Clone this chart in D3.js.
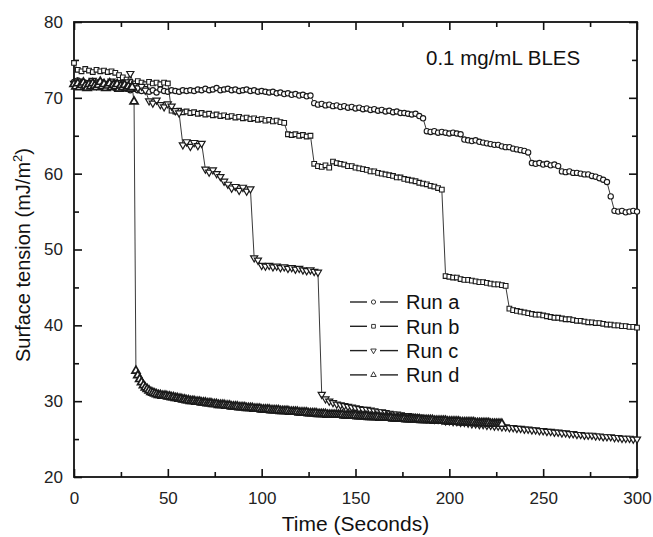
<!DOCTYPE html>
<html>
<head>
<meta charset="utf-8">
<script src="https://cdn.jsdelivr.net/npm/d3@7"></script>
<style>
  body { margin: 0; background: #fff; }
  svg { display: block; font-family: "Liberation Sans", Arial, sans-serif; }
  .axis text { font-size: 17px; fill: #222; }
  .axis line { stroke: #111; stroke-width: 1.6; }
  .axis path { display: none; }
</style>
</head>
<body>
<svg id="chart" width="653" height="537"></svg>
<script>
// sampling interval (s) of each run
var stepA = 2, stepB = 2, stepC = 2, stepD = 1;

// surface tension (mJ/m2)
var runA = [
  72.1, 72.3, 71.8, 72.0, 71.6, 72.2, 71.9, 71.5, 71.8, 71.4, 71.7, 71.3, 71.6, 71.2, 71.4, 71.0,
  71.3, 71.0, 70.9, 71.2, 70.8, 71.0, 70.7, 71.1, 70.9, 70.8, 71.0, 70.9, 70.8, 71.0, 70.9,
  71.0, 70.9, 71.1, 71.0, 71.2, 71.0, 71.1, 71.3, 71.0, 71.1, 71.2, 71.0, 71.1, 70.9, 71.0, 71.1, 70.9, 71.0, 70.8, 70.9,
  70.8, 70.7, 70.8, 70.6, 70.7, 70.5, 70.6, 70.4, 70.5, 70.3, 70.4, 70.2, 70.3,
  69.3, 69.1, 69.2, 69.0, 69.1, 68.9, 69.0, 68.8, 68.9, 68.7, 68.8, 68.6, 68.7, 68.5, 68.6,
  68.4, 68.5, 68.3, 68.4, 68.2, 68.3, 68.1, 68.2, 68.0, 68.0, 67.9, 67.8, 67.9, 67.6, 67.3,
  65.6, 65.5, 65.6, 65.4, 65.5, 65.4, 65.3, 65.4, 65.3, 65.2,
  64.5, 64.4, 64.3, 64.4, 64.2, 64.1, 64.0, 63.9, 63.8, 63.8, 63.6, 63.5, 63.5, 63.3, 63.2, 63.1, 63.0, 62.8,
  61.4, 61.3, 61.4, 61.2, 61.3, 61.1, 61.2, 61.0,
  60.3, 60.2, 60.3, 60.1, 60.1, 60.0, 59.9, 59.9, 59.7, 59.6, 59.4, 59.2, 58.9,
  57.0,
  55.1, 55.0, 55.1, 54.9, 55.0, 55.1, 55.0
];
var runB = [
  74.6,
  73.7, 73.5, 73.8, 73.6, 73.4, 73.7, 73.5, 73.6, 73.4, 73.5, 73.3,
  73.0, 72.7, 72.4,
  72.1, 71.9, 72.2, 72.0, 71.8, 72.1, 71.9, 72.0, 71.8, 72.0, 71.9,
  68.3, 68.2, 68.3, 68.1, 68.2, 68.0, 68.1, 67.9, 68.0,
  67.8, 67.9, 67.7, 67.8, 67.6, 67.7, 67.5, 67.6, 67.4,
  67.5, 67.3, 67.4, 67.2, 67.3, 67.1, 67.2, 67.0, 67.1,
  66.9, 67.0, 66.8, 66.7,
  65.2, 65.1, 65.2, 65.0, 65.1, 64.9, 65.0,
  61.3, 61.0, 60.9, 61.1, 60.8,
  61.6, 61.4, 61.3, 61.2, 61.0, 61.0, 60.8, 60.7, 60.6,
  60.5, 60.3, 60.3, 60.1, 60.0, 59.9, 59.8, 59.7,
  59.5, 59.5, 59.3, 59.2, 59.1, 59.0, 58.8, 58.7,
  58.6, 58.4, 58.3, 58.1, 57.9,
  46.5, 46.4, 46.3, 46.3, 46.1, 46.0, 46.0, 45.9, 45.8, 45.7, 45.7, 45.6, 45.5, 45.4, 45.4, 45.3, 45.2,
  42.2, 42.0, 41.9, 41.8, 41.7, 41.6, 41.5, 41.4, 41.4, 41.3, 41.2,
  41.1, 41.0, 41.0, 40.9, 40.8, 40.8, 40.7, 40.6, 40.6, 40.5,
  40.4, 40.4, 40.3, 40.3, 40.2, 40.1, 40.1, 40.0, 40.0, 39.9,
  39.9, 39.8, 39.8, 39.7
];
var runC = [
  71.9, 72.2, 71.7, 72.0, 71.8, 72.3, 71.6, 72.1, 71.9, 71.7, 72.2, 71.8, 72.0, 71.6, 72.1,
  73.2,
  71.6, 71.3, 71.5, 71.0,
  69.6, 69.3, 69.7, 69.1, 68.8, 69.2, 68.9, 68.3,
  68.0,
  63.8, 64.2, 63.6, 64.1, 63.7, 64.0,
  60.6, 60.2, 60.5, 60.0, 59.6,
  59.0, 58.6, 58.1, 58.3, 57.8, 58.2, 57.7, 58.0,
  48.9, 48.6,
  47.9, 47.8, 47.9, 47.7, 47.8, 47.6, 47.7, 47.5, 47.6, 47.4, 47.5, 47.3, 47.2, 47.3, 47.1, 47.0,
  30.9, 30.3, 30.0, 29.8, 29.6,
  29.5, 29.4, 29.3, 29.2, 29.1, 29.0, 28.9, 28.9, 28.8, 28.7,
  28.6, 28.6, 28.5, 28.4, 28.3, 28.3, 28.2, 28.1, 28.1, 28.0,
  27.9, 27.9, 27.8, 27.7, 27.7, 27.6, 27.6, 27.5, 27.4, 27.4,
  27.3, 27.3, 27.2, 27.2, 27.1, 27.0, 27.0, 26.9, 26.9, 26.8,
  26.8, 26.7, 26.7, 26.6, 26.6, 26.5, 26.5, 26.4, 26.4, 26.3,
  26.3, 26.2, 26.2, 26.1, 26.1, 26.0, 26.0, 25.9, 25.9, 25.8,
  25.8, 25.7, 25.7, 25.6, 25.6, 25.5, 25.5, 25.5, 25.4, 25.4,
  25.3, 25.3, 25.3, 25.2, 25.2, 25.1, 25.1, 25.1, 25.0, 25.0
];
var runD = [
  71.8, 71.5, 71.9, 71.4, 71.7, 72.0, 71.6, 71.3, 71.8, 71.5, 71.9, 71.6, 71.4, 71.7, 72.1, 71.5,
  71.8, 71.3, 71.6, 71.9, 71.4, 71.7, 71.5, 71.8, 71.2, 71.6, 71.4, 71.7, 71.3, 71.5, 71.2, 71.4,
  69.5,
  34.0, 33.4, 32.9, 32.5, 32.1, 31.8, 31.6, 31.4, 31.2,
  31.1, 31.0, 30.9, 30.8, 30.8, 30.7, 30.7, 30.7, 30.6,
  30.6, 30.5, 30.5, 30.4, 30.4, 30.3, 30.3, 30.2, 30.2, 30.1,
  30.1, 30.0, 30.0, 30.0, 29.9, 29.9, 29.9, 29.8, 29.8, 29.8,
  29.7, 29.7, 29.7, 29.6, 29.6, 29.6, 29.5, 29.5, 29.5, 29.5,
  29.4, 29.4, 29.4, 29.3, 29.3, 29.3, 29.3, 29.2, 29.2, 29.2,
  29.2, 29.1, 29.1, 29.1, 29.1, 29.0, 29.0, 29.0, 29.0, 28.9,
  28.9, 28.9, 28.9, 28.9, 28.8, 28.8, 28.8, 28.8, 28.8, 28.7,
  28.7, 28.7, 28.7, 28.7, 28.6, 28.6, 28.6, 28.6, 28.6, 28.5,
  28.5, 28.5, 28.5, 28.5, 28.4, 28.4, 28.4, 28.4, 28.4, 28.3,
  28.3, 28.3, 28.3, 28.3, 28.2, 28.2, 28.2, 28.2, 28.2, 28.2,
  28.2, 28.2, 28.2, 28.1, 28.1, 28.1, 28.1, 28.1, 28.1, 28.1,
  28.0, 28.0, 28.0, 28.0, 28.0, 28.0, 27.9, 27.9, 27.9, 27.9,
  27.9, 27.9, 27.8, 27.8, 27.8, 27.8, 27.8, 27.8, 27.8, 27.7,
  27.7, 27.7, 27.7, 27.7, 27.7, 27.7, 27.6, 27.6, 27.6, 27.6,
  27.6, 27.6, 27.6, 27.6, 27.5, 27.5, 27.5, 27.5, 27.5, 27.5,
  27.5, 27.4, 27.4, 27.4, 27.4, 27.4, 27.4, 27.4, 27.3, 27.3,
  27.3, 27.3, 27.3, 27.3, 27.3, 27.2, 27.2, 27.2, 27.2, 27.2,
  27.2, 27.2, 27.2, 27.1, 27.1, 27.1, 27.1, 27.1, 27.1, 27.1,
  27.1, 27.0, 27.0, 27.0, 27.0, 27.0, 27.0, 27.0
];

var runNames = ["Run a", "Run b", "Run c", "Run d"];
var xTicks = [0, 50, 100, 150, 200, 250, 300];
var xMinor = [25, 75, 125, 175, 225, 275];
var yTicks = [20, 30, 40, 50, 60, 70, 80];
var yMinor = [25, 35, 45, 55, 65, 75];

var svg = d3.select("#chart"),
  margin = { top: 22, right: 16, bottom: 60, left: 74 },
  width = +svg.attr("width") - margin.left - margin.right,
  height = +svg.attr("height") - margin.top - margin.bottom;

var x = d3.scaleLinear().domain([0, 300]).range([0, width]),
  y = d3.scaleLinear().domain([20, 80]).range([height, 0]);

var g = svg.append("g")
  .attr("transform", "translate(" + margin.left + "," + margin.top + ")");

// axes, ticks pointing inwards on all four sides
g.append("g").attr("class", "axis")
  .attr("transform", "translate(0," + height + ")")
  .call(d3.axisBottom(x).tickValues(xTicks).tickSize(-8).tickPadding(15));
g.append("g").attr("class", "axis")
  .attr("transform", "translate(0," + height + ")")
  .call(d3.axisBottom(x).tickValues(xMinor).tickSize(-5).tickFormat(""));
g.append("g").attr("class", "axis")
  .call(d3.axisTop(x).tickValues(xTicks).tickSize(-8).tickFormat(""));
g.append("g").attr("class", "axis")
  .call(d3.axisTop(x).tickValues(xMinor).tickSize(-5).tickFormat(""));

g.append("g").attr("class", "axis")
  .call(d3.axisLeft(y).tickValues(yTicks).tickSize(-8).tickPadding(11));
g.append("g").attr("class", "axis")
  .call(d3.axisLeft(y).tickValues(yMinor).tickSize(-5).tickFormat(""));
g.append("g").attr("class", "axis")
  .attr("transform", "translate(" + width + ",0)")
  .call(d3.axisRight(y).tickValues(yTicks).tickSize(-8).tickFormat(""));
g.append("g").attr("class", "axis")
  .attr("transform", "translate(" + width + ",0)")
  .call(d3.axisRight(y).tickValues(yMinor).tickSize(-5).tickFormat(""));

g.append("rect")
  .attr("width", width)
  .attr("height", height)
  .attr("fill", "none")
  .attr("stroke", "#111")
  .attr("stroke-width", 1.8);

// series
var symCircle = d3.symbol().type(d3.symbolCircle).size(22),
  symSquare = d3.symbol().type(d3.symbolSquare).size(22),
  symTri = d3.symbol().type(d3.symbolTriangle).size(22),
  symTriD = d3.symbol().type(d3.symbolTriangle).size(28);

var series = [
  { name: runNames[0], values: runA, step: stepA, path: symCircle(), rot: 0, sw: 1.1 },
  { name: runNames[1], values: runB, step: stepB, path: symSquare(), rot: 0, sw: 1.1 },
  { name: runNames[2], values: runC, step: stepC, path: symTri(), rot: 180, sw: 1.2 },
  { name: runNames[3], values: runD, step: stepD, path: symTriD(), rot: 0, sw: 1.7 }
];

var line = d3.line()
  .x(function (d) { return x(d.t); })
  .y(function (d) { return y(d.v); });

series.forEach(function (s) {
  var pts = s.values.map(function (v, i) { return { t: i * s.step, v: v }; });
  var sg = g.append("g");
  sg.append("path")
    .datum(pts)
    .attr("fill", "none")
    .attr("stroke", "#222")
    .attr("stroke-width", 0.9)
    .attr("d", line);
  sg.selectAll(".pt")
    .data(pts)
    .enter().append("path")
    .attr("class", "pt")
    .attr("d", s.path)
    .attr("transform", function (d) {
      return "translate(" + x(d.t) + "," + y(d.v) + ") rotate(" + s.rot + ")";
    })
    .attr("fill", "#fff")
    .attr("stroke", "#1a1a1a")
    .attr("stroke-width", s.sw);
});

// legend
var legend = svg.append("g").attr("transform", "translate(350,302)");
var lsym = [
  d3.symbol().type(d3.symbolCircle).size(14)(),
  d3.symbol().type(d3.symbolSquare).size(14)(),
  d3.symbol().type(d3.symbolTriangle).size(13)(),
  d3.symbol().type(d3.symbolTriangle).size(13)()
];
series.forEach(function (s, i) {
  var row = legend.append("g").attr("transform", "translate(0," + (i * 24.3) + ")");
  row.append("line").attr("x1", 0).attr("x2", 17).attr("stroke", "#222").attr("stroke-width", 1.4);
  row.append("line").attr("x1", 30).attr("x2", 48).attr("stroke", "#222").attr("stroke-width", 1.4);
  row.append("path")
    .attr("d", lsym[i])
    .attr("transform", "translate(23.5,0) rotate(" + s.rot + ")")
    .attr("fill", "#fff")
    .attr("stroke", "#222")
    .attr("stroke-width", 0.9);
  row.append("text")
    .attr("x", 56)
    .attr("dy", "0.36em")
    .attr("font-size", 20)
    .attr("fill", "#111")
    .text(s.name);
});

// annotation
svg.append("text")
  .attr("x", 426)
  .attr("y", 65)
  .attr("font-size", 20.5)
  .attr("fill", "#111")
  .text("0.1 mg/mL BLES");

// axis titles
svg.append("text")
  .attr("x", margin.left + width / 2)
  .attr("y", 531)
  .attr("text-anchor", "middle")
  .attr("font-size", 21)
  .attr("fill", "#111")
  .text("Time (Seconds)");

var yt = svg.append("text")
  .attr("transform", "translate(30," + (margin.top + 233) + ") rotate(-90)")
  .attr("text-anchor", "middle")
  .attr("font-size", 20)
  .attr("fill", "#111");
yt.append("tspan").text("Surface tension (mJ/m");
yt.append("tspan").attr("font-size", 13).attr("dy", "-0.6em").text("2");
yt.append("tspan").attr("dy", "0.4em").text(")");
</script>
</body>
</html>
